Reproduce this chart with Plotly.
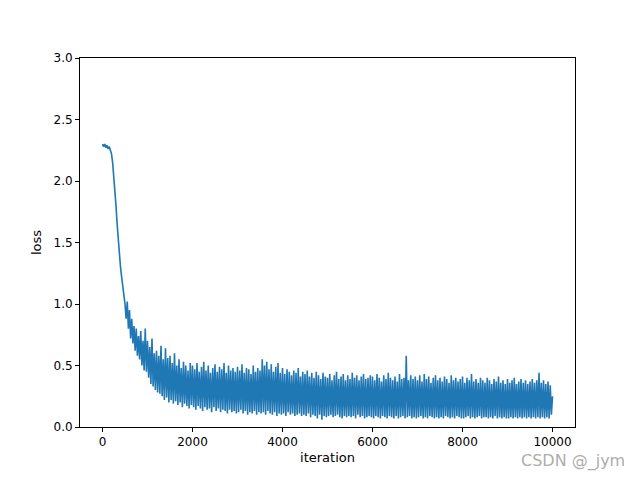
import plotly.graph_objects as go

iteration = list(range(0, 10001, 25))
loss = [
    2.30, 2.28, 2.30, 2.27, 2.29, 2.26, 2.28, 2.24, 2.22, 2.15, 2.05, 1.92, 1.80, 1.65, 1.52, 1.40, 1.30, 1.22, 1.15, 1.08,
    1.00, 0.88, 1.02, 0.80, 0.95, 0.72, 0.88, 0.68, 0.82, 0.62, 0.80, 0.58, 0.74, 0.55, 0.78, 0.50, 0.70, 0.46, 0.80, 0.45,
    0.70, 0.40, 0.65, 0.35, 0.72, 0.33, 0.60, 0.30, 0.62, 0.28, 0.58, 0.27, 0.66, 0.25, 0.55, 0.22, 0.64, 0.24, 0.56, 0.20,
    0.58, 0.22, 0.52, 0.19, 0.60, 0.21, 0.50, 0.18, 0.55, 0.20, 0.48, 0.16, 0.53, 0.19, 0.50, 0.17, 0.46, 0.15, 0.52, 0.18,
    0.50, 0.16, 0.47, 0.14, 0.52, 0.17, 0.45, 0.15, 0.49, 0.13, 0.53, 0.16, 0.46, 0.14, 0.50, 0.15, 0.44, 0.12, 0.48, 0.16,
    0.51, 0.13, 0.45, 0.15, 0.49, 0.12, 0.47, 0.14, 0.52, 0.13, 0.44, 0.11, 0.50, 0.14, 0.46, 0.12, 0.48, 0.13, 0.45, 0.11,
    0.49, 0.12, 0.46, 0.14, 0.51, 0.11, 0.44, 0.13, 0.48, 0.10, 0.47, 0.12, 0.43, 0.11, 0.50, 0.13, 0.45, 0.10, 0.48, 0.12,
    0.46, 0.11, 0.55, 0.12, 0.50, 0.10, 0.53, 0.13, 0.47, 0.11, 0.51, 0.10, 0.45, 0.12, 0.49, 0.09, 0.52, 0.11, 0.44, 0.10,
    0.48, 0.11, 0.43, 0.09, 0.47, 0.12, 0.45, 0.10, 0.42, 0.11, 0.46, 0.09, 0.44, 0.10, 0.48, 0.11, 0.41, 0.09, 0.45, 0.10,
    0.43, 0.09, 0.46, 0.11, 0.41, 0.08, 0.44, 0.10, 0.40, 0.09, 0.45, 0.07, 0.42, 0.10, 0.39, 0.06, 0.44, 0.09, 0.41, 0.08,
    0.40, 0.09, 0.43, 0.10, 0.38, 0.08, 0.42, 0.09, 0.45, 0.10, 0.39, 0.08, 0.41, 0.07, 0.43, 0.09, 0.38, 0.08, 0.42, 0.09,
    0.39, 0.08, 0.44, 0.09, 0.40, 0.07, 0.42, 0.10, 0.38, 0.08, 0.41, 0.09, 0.43, 0.07, 0.39, 0.08, 0.40, 0.09, 0.42, 0.08,
    0.41, 0.07, 0.38, 0.09, 0.43, 0.08, 0.40, 0.07, 0.37, 0.09, 0.42, 0.08, 0.39, 0.07, 0.44, 0.09, 0.40, 0.08, 0.38, 0.07,
    0.41, 0.09, 0.37, 0.07, 0.43, 0.08, 0.39, 0.09, 0.40, 0.07, 0.58, 0.08, 0.38, 0.09, 0.42, 0.07, 0.39, 0.08, 0.41, 0.07,
    0.38, 0.08, 0.42, 0.09, 0.37, 0.07, 0.43, 0.08, 0.39, 0.07, 0.41, 0.09, 0.36, 0.08, 0.40, 0.07, 0.42, 0.08, 0.38, 0.07,
    0.40, 0.08, 0.37, 0.07, 0.41, 0.09, 0.39, 0.08, 0.36, 0.07, 0.42, 0.08, 0.38, 0.07, 0.40, 0.09, 0.37, 0.08, 0.39, 0.07,
    0.41, 0.07, 0.36, 0.08, 0.40, 0.09, 0.38, 0.07, 0.43, 0.08, 0.37, 0.07, 0.39, 0.08, 0.36, 0.09, 0.40, 0.07, 0.38, 0.08,
    0.36, 0.08, 0.40, 0.07, 0.38, 0.08, 0.35, 0.07, 0.39, 0.09, 0.37, 0.07, 0.41, 0.08, 0.36, 0.07, 0.38, 0.08, 0.35, 0.07,
    0.39, 0.07, 0.36, 0.08, 0.38, 0.07, 0.40, 0.08, 0.35, 0.07, 0.37, 0.08, 0.39, 0.07, 0.36, 0.08, 0.38, 0.07, 0.35, 0.08,
    0.37, 0.07, 0.39, 0.08, 0.36, 0.07, 0.38, 0.08, 0.44, 0.07, 0.36, 0.08, 0.38, 0.07, 0.35, 0.08, 0.37, 0.07, 0.34, 0.10,
    0.25,
]
x_ticks = [0, 2000, 4000, 6000, 8000, 10000]

fig = go.Figure(go.Scatter(x=iteration, y=loss, mode="lines",
                           line=dict(color="#1f77b4", width=1.6)))

ax = dict(showline=True, linecolor="black", linewidth=1, mirror=True,
          ticks="outside", ticklen=4, tickcolor="black", showgrid=False,
          zeroline=False, tickfont=dict(size=12, color="black"))
fig.update_xaxes(**ax, range=[-500, 10500], tickvals=x_ticks, ticktext=[str(t) for t in x_ticks],
                 title=dict(text="iteration", font=dict(size=13, color="black"), standoff=4))
fig.update_yaxes(**ax, range=[0, 3], dtick=0.5, tickformat=".1f",
                 title=dict(text="loss", font=dict(size=13, color="black"), standoff=8))

fig.add_annotation(text="CSDN @_jym", xref="paper", yref="paper", x=1.105, y=-0.125,
                   xanchor="right", showarrow=False,
                   font=dict(size=16, color="rgba(150,150,150,0.8)"))

fig.update_layout(width=640, height=480, plot_bgcolor="white", paper_bgcolor="white",
                  margin=dict(l=72, r=73, t=50, b=61), showlegend=False,
                  font=dict(family="DejaVu Sans"))

fig.write_html("out.html")
